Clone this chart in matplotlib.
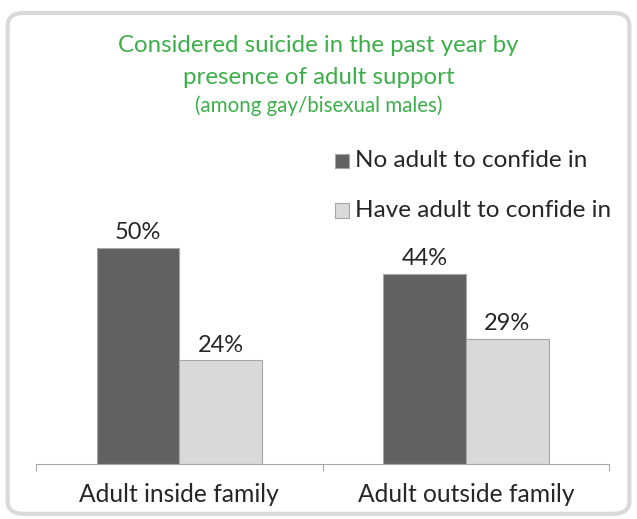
import matplotlib

matplotlib.use("Agg")
import matplotlib.pyplot as plt
import numpy as np
from matplotlib.patches import FancyBboxPatch, Rectangle

plt.rcParams["font.family"] = ["Lato", "DejaVu Sans"]

categories = ["Adult inside family", "Adult outside family"]
series_names = ["No adult to confide in", "Have adult to confide in"]
no_adult = [50, 44]
have_adult = [24, 29]

colors = ["#616161", "#d9d9d9"]
edge = "#a6a6a6"
green = "#3daf4a"
text_col = "#262626"

fig = plt.figure(figsize=(6.37, 5.19), dpi=100)

# rounded outer frame
frame = FancyBboxPatch((0.012, 0.01), 0.976, 0.965, boxstyle="round,pad=0,rounding_size=0.025",
                       transform=fig.transFigure, facecolor="white", edgecolor="#d9d9d9",
                       linewidth=3, zorder=-1)
fig.patches.append(frame)

ax = fig.add_axes([0.0565, 0.106, 0.9, 0.5])
ax.set_facecolor("none")

x = np.arange(len(categories))
w = 0.288
for vals, off, col in [(no_adult, -w / 2, colors[0]), (have_adult, w / 2, colors[1])]:
    bars = ax.bar(x + off, vals, width=w, color=col, edgecolor=edge, linewidth=0.8)
    for b, v in zip(bars, vals):
        ax.text(b.get_x() + b.get_width() / 2, v + 1.0, f"{v}%", ha="center", va="bottom",
                fontsize=17, color=text_col)

ax.set_xlim(-0.5, 1.5)
ax.set_ylim(0, 60)
ax.set_yticks([])
for s in ("left", "right", "top"):
    ax.spines[s].set_visible(False)
ax.spines["bottom"].set_color(edge)
ax.set_xticks([-0.5, 0.5, 1.5])
ax.set_xticklabels([])
ax.tick_params(axis="x", length=5, color=edge, direction="out")
for xi, lab in zip(x, categories):
    ax.text(xi, -0.075, lab, transform=ax.get_xaxis_transform(), ha="center", va="top",
            fontsize=17.7, color=text_col)

# title
fig.text(0.5, 0.913, "Considered suicide in the past year by", ha="center", va="center",
         fontsize=17.3, color=green)
fig.text(0.5, 0.85, "presence of adult support", ha="center", va="center",
         fontsize=17.3, color=green)
fig.text(0.5, 0.796, "(among gay/bisexual males)", ha="center", va="center",
         fontsize=14.8, color=green)

# legend
for i, (name, col) in enumerate(zip(series_names, colors)):
    yc = 0.69 - i * 0.095
    fig.patches.append(Rectangle((0.526, yc - 0.0145), 0.022, 0.028, transform=fig.transFigure,
                                 facecolor=col, edgecolor=edge, linewidth=0.8))
    fig.text(0.557, yc, name, ha="left", va="center", fontsize=17.5, color=text_col)

fig.savefig("out.png", dpi=100)
